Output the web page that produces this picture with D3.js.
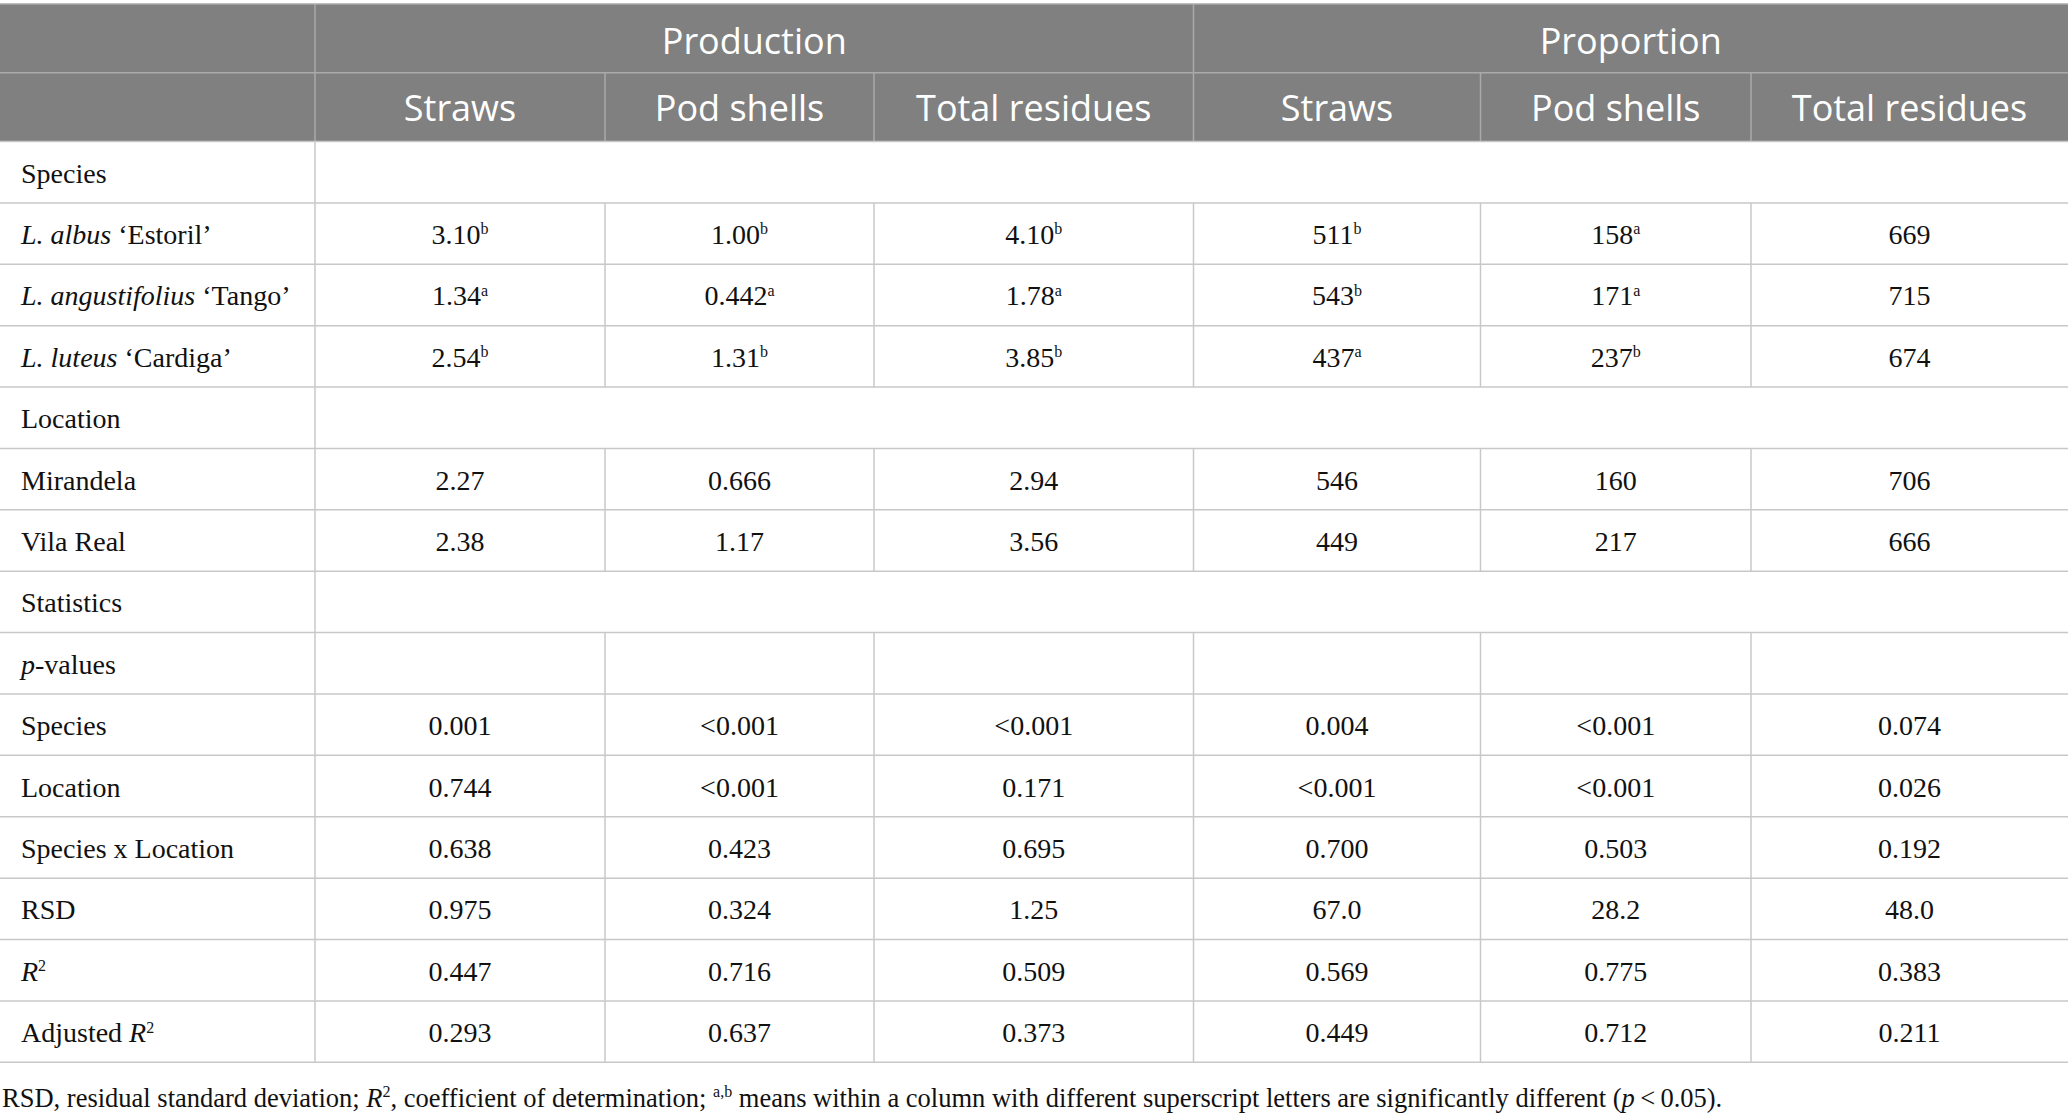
<!DOCTYPE html>
<html>
<head>
<meta charset="utf-8">
<script src="https://cdn.jsdelivr.net/npm/d3@7"></script>
<style>
  body { margin: 0; background: #fff; }
</style>
</head>
<body>
<svg id="chart"></svg>
<script>
/* ---------- data ---------- */
const groups = ['Production', 'Proportion'];
const measures = ['Straws', 'Pod shells', 'Total residues'];

// *x* = italic, ^x = superscript
const rowLabels = [
  'Species',
  '*L. albus* ‘Estoril’',
  '*L. angustifolius* ‘Tango’',
  '*L. luteus* ‘Cardiga’',
  'Location',
  'Mirandela',
  'Vila Real',
  'Statistics',
  '*p*-values',
  'Species',
  'Location',
  'Species x Location',
  'RSD',
  '*R*^2',
  'Adjusted *R*^2'
];

// null = section heading row (merged cell)
const prodStraws = [null, '3.10^b', '1.34^a', '2.54^b', null, '2.27', '2.38', null, '', '0.001', '0.744', '0.638', '0.975', '0.447', '0.293'];
const prodPods   = [null, '1.00^b', '0.442^a', '1.31^b', null, '0.666', '1.17', null, '', '<0.001', '<0.001', '0.423', '0.324', '0.716', '0.637'];
const prodTotal  = [null, '4.10^b', '1.78^a', '3.85^b', null, '2.94', '3.56', null, '', '<0.001', '0.171', '0.695', '1.25', '0.509', '0.373'];
const propStraws = [null, '511^b', '543^b', '437^a', null, '546', '449', null, '', '0.004', '<0.001', '0.700', '67.0', '0.569', '0.449'];
const propPods   = [null, '158^a', '171^a', '237^b', null, '160', '217', null, '', '<0.001', '<0.001', '0.503', '28.2', '0.775', '0.712'];
const propTotal  = [null, '669', '715', '674', null, '706', '666', null, '', '0.074', '0.026', '0.192', '48.0', '0.383', '0.211'];

const footnote = 'RSD, residual standard deviation; *R*^2, coefficient of determination; ^a,b means within a column with different superscript letters are significantly different (*p*\u2009<\u20090.05).';

/* ---------- layout ---------- */
const W = 2068, H = 1114;
const colWidths = [315, 290, 269, 319.5, 287, 270.5, 317];
const columns = [prodStraws, prodPods, prodTotal, propStraws, propPods, propTotal];
const edges = [0, ...d3.cumsum(colWidths)];

const headTop = 4, headMid = 72.7, headBottom = 141.5;
const bodyBottom = 1062.3;

const headerBg = '#7f807f';
const headerLine = '#a9aaa9';
const gridLine = '#c8c8c8';
const textColor = '#111';
const serif = '"Liberation Serif", "DejaVu Serif", serif';
const sans = '"Open Sans", "Noto Sans", sans-serif';

const svg = d3.select('#chart').attr('width', W).attr('height', H);

const y = d3.scaleBand()
  .domain(d3.range(rowLabels.length))
  .range([headBottom, bodyBottom])
  .padding(0);

const colX = i => edges[i];                 // left edge of column i
const colMid = i => (edges[i] + edges[i + 1]) / 2;

// write marked-up text into a <text> as tspans
function richText(sel, str, supSize) {
  const parts = str.split(/(\*[^*]+\*|\^[a-z0-9]+(?:,[a-z0-9]+)*)/).filter(s => s !== '');
  let raised = false;
  parts.forEach(p => {
    const t = sel.append('tspan');
    if (p.startsWith('*')) {
      t.attr('font-style', 'italic').text(p.slice(1, -1));
      if (raised) { t.attr('dy', supSize * 0.6); raised = false; }
    } else if (p.startsWith('^')) {
      t.attr('font-size', supSize).attr('dy', -supSize * 0.6).text(p.slice(1));
      raised = true;
    } else {
      t.text(p);
      if (raised) { t.attr('dy', supSize * 0.6); raised = false; }
    }
  });
}

/* ---------- header ---------- */
const head = svg.append('g');
head.append('rect')
  .attr('x', 0).attr('y', headTop)
  .attr('width', W).attr('height', headBottom - headTop)
  .attr('fill', headerBg);

head.append('line')
  .attr('x1', 0).attr('x2', W).attr('y1', headTop).attr('y2', headTop)
  .attr('stroke', headerLine).attr('stroke-width', 1.5);
head.append('line')
  .attr('x1', 0).attr('x2', W).attr('y1', headMid).attr('y2', headMid)
  .attr('stroke', headerLine).attr('stroke-width', 1.5);

// row 1 dividers: first column + group boundary
head.selectAll('line.g1')
  .data([1, 4])
  .enter().append('line')
  .attr('x1', d => colX(d)).attr('x2', d => colX(d))
  .attr('y1', headTop).attr('y2', headMid)
  .attr('stroke', headerLine).attr('stroke-width', 1.5);

// row 2 dividers: all columns
head.selectAll('line.g2')
  .data(d3.range(1, 7))
  .enter().append('line')
  .attr('x1', d => colX(d)).attr('x2', d => colX(d))
  .attr('y1', headMid).attr('y2', headBottom)
  .attr('stroke', headerLine).attr('stroke-width', 1.5);

head.selectAll('text.group')
  .data(groups)
  .enter().append('text')
  .attr('x', (d, i) => (colX(1 + i * 3) + colX(4 + i * 3)) / 2)
  .attr('y', 54)
  .attr('text-anchor', 'middle')
  .attr('font-family', sans)
  .attr('font-size', 36)
  .attr('fill', '#fff')
  .text(d => d);

head.selectAll('text.measure')
  .data(d3.range(6))
  .enter().append('text')
  .attr('x', i => colMid(i + 1))
  .attr('y', 121)
  .attr('text-anchor', 'middle')
  .attr('font-family', sans)
  .attr('font-size', 36)
  .attr('fill', '#fff')
  .text(i => measures[i % 3]);

/* ---------- body grid ---------- */
const grid = svg.append('g');
grid.selectAll('line.h')
  .data(d3.range(rowLabels.length + 1))
  .enter().append('line')
  .attr('x1', 0).attr('x2', W)
  .attr('y1', i => i < rowLabels.length ? y(i) : bodyBottom)
  .attr('y2', i => i < rowLabels.length ? y(i) : bodyBottom)
  .attr('stroke', gridLine).attr('stroke-width', 1.5);

rowLabels.forEach((lab, r) => {
  const isSection = prodStraws[r] === null;
  const cuts = isSection ? [1] : d3.range(1, 7);
  grid.selectAll(null)
    .data(cuts)
    .enter().append('line')
    .attr('x1', c => colX(c)).attr('x2', c => colX(c))
    .attr('y1', y(r)).attr('y2', y(r) + y.bandwidth())
    .attr('stroke', gridLine).attr('stroke-width', 1.5);
});

/* ---------- body text ---------- */
const body = svg.append('g')
  .attr('font-family', serif)
  .attr('font-size', 28)
  .attr('fill', textColor);

rowLabels.forEach((lab, r) => {
  const base = y(r) + y.bandwidth() / 2 + 10.5;
  richText(body.append('text').attr('x', 21).attr('y', base), lab, 16);

  columns.forEach((col, c) => {
    const v = col[r];
    if (!v) return;
    richText(
      body.append('text')
        .attr('x', colMid(c + 1))
        .attr('y', base)
        .attr('text-anchor', 'middle'),
      v, 16);
  });
});

/* ---------- footnote ---------- */
richText(
  svg.append('text')
    .attr('x', 2).attr('y', 1107)
    .attr('font-family', serif)
    .attr('font-size', 26.5)
    .attr('fill', textColor),
  footnote, 16);
</script>
</body>
</html>
